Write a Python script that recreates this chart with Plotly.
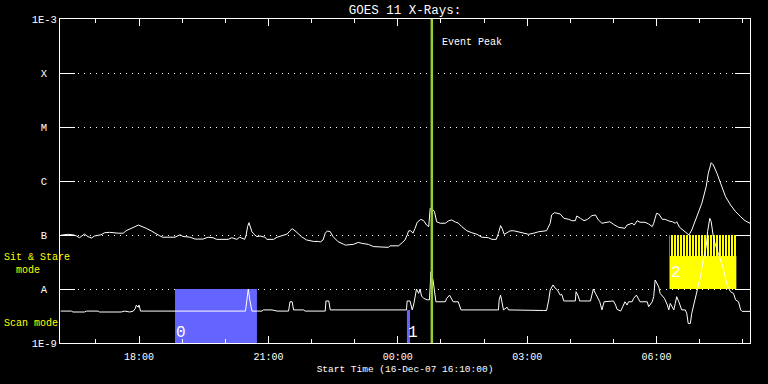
import pandas as pd
import plotly.graph_objects as go

START = pd.Timestamp("2007-12-16 16:10:00")
END = pd.Timestamp("2007-12-17 08:10:00")

# ---- GOES 11 long channel (1-8 A), minutes after start / flux W m^-2
long_minutes = [
    1, 11, 18, 23, 27, 34, 39, 44, 48, 57,
    62, 69, 81, 88, 92, 97, 104, 109, 113, 120,
    127, 134, 139, 143, 160, 167, 171, 181, 188, 199,
    202, 206, 213, 218, 234, 239, 246, 250, 257, 259,
    261, 263, 264, 267, 270, 274, 278, 285, 288, 297,
    302, 309, 316, 320, 323, 327, 332, 336, 343, 353,
    360, 362, 366, 369, 372, 376, 380, 387, 394, 397,
    408, 415, 420, 429, 436, 457, 459, 471, 476, 480,
    483, 485, 488, 491, 494, 497, 502, 506, 510, 513,
    515, 517, 521, 524, 529, 536, 541, 545, 550, 554,
    559, 566, 573, 580, 587, 596, 601, 607, 610, 613,
    615, 618, 622, 626, 631, 638, 645, 652, 659, 666,
    677, 682, 684, 688, 696, 701, 708, 712, 717, 719,
    724, 729, 734, 740, 745, 749, 754, 759, 765, 770,
    777, 786, 789, 796, 799, 803, 807, 814, 819, 824,
    826, 830, 833, 838, 842, 847, 852, 856, 858, 862,
    868, 872, 875, 879, 886, 893, 899, 902, 906, 909,
    914, 919, 926, 933, 940, 947, 953, 960,
]
long_flux = [
    0.99e-7, 1.03e-7, 1.01e-7, 0.96e-7, 0.89e-7, 1.04e-7, 0.93e-7, 0.88e-7, 0.96e-7, 1.01e-7,
    1.10e-7, 1.12e-7, 1.08e-7, 1.08e-7, 1.20e-7, 1.27e-7, 1.42e-7, 1.53e-7, 1.47e-7, 1.33e-7,
    1.19e-7, 1.04e-7, 0.96e-7, 0.91e-7, 0.91e-7, 1.01e-7, 0.94e-7, 0.91e-7, 0.84e-7, 0.84e-7,
    0.87e-7, 0.91e-7, 0.89e-7, 0.83e-7, 0.83e-7, 0.89e-7, 0.83e-7, 0.91e-7, 0.83e-7, 1.00e-7,
    1.43e-7, 1.69e-7, 1.53e-7, 1.15e-7, 1.03e-7, 0.93e-7, 0.96e-7, 0.91e-7, 0.83e-7, 0.83e-7,
    0.91e-7, 0.96e-7, 1.04e-7, 1.20e-7, 1.31e-7, 1.20e-7, 1.03e-7, 0.93e-7, 0.81e-7, 0.76e-7,
    0.76e-7, 0.74e-7, 0.81e-7, 1.08e-7, 1.19e-7, 1.15e-7, 0.93e-7, 0.75e-7, 0.68e-7, 0.65e-7,
    0.67e-7, 0.73e-7, 0.70e-7, 0.67e-7, 0.61e-7, 0.59e-7, 0.63e-7, 0.63e-7, 0.72e-7, 0.81e-7,
    1.00e-7, 1.19e-7, 1.20e-7, 1.08e-7, 1.33e-7, 1.72e-7, 1.95e-7, 1.84e-7, 1.53e-7, 1.43e-7,
    3.12e-7, 3.12e-7, 2.70e-7, 1.76e-7, 1.65e-7, 1.65e-7, 1.84e-7, 1.90e-7, 1.74e-7, 1.67e-7,
    1.43e-7, 1.20e-7, 1.10e-7, 1.03e-7, 0.91e-7, 0.89e-7, 0.83e-7, 0.83e-7, 1.08e-7, 1.49e-7,
    1.33e-7, 1.03e-7, 1.10e-7, 1.19e-7, 1.20e-7, 1.15e-7, 1.10e-7, 1.03e-7, 1.08e-7, 1.15e-7,
    1.20e-7, 1.65e-7, 2.35e-7, 2.59e-7, 2.45e-7, 2.04e-7, 1.95e-7, 1.84e-7, 1.84e-7, 2.25e-7,
    2.04e-7, 1.84e-7, 1.95e-7, 2.28e-7, 2.35e-7, 1.90e-7, 1.65e-7, 1.69e-7, 1.76e-7, 1.58e-7,
    1.39e-7, 1.33e-7, 1.53e-7, 1.65e-7, 1.53e-7, 1.84e-7, 1.72e-7, 1.72e-7, 1.60e-7, 1.43e-7,
    1.65e-7, 2.52e-7, 2.45e-7, 1.95e-7, 1.95e-7, 1.82e-7, 1.76e-7, 1.65e-7, 1.76e-7, 1.39e-7,
    1.20e-7, 1.08e-7, 1.00e-7, 1.24e-7, 2.18e-7, 3.86e-7, 7.84e-7, 1.39e-6, 2.18e-6, 1.98e-6,
    1.39e-6, 9.06e-7, 5.12e-7, 3.59e-7, 2.70e-7, 2.18e-7, 1.84e-7, 1.65e-7,
]

# ---- GOES 11 short channel (0.5-4 A)
short_minutes = [
    1, 16, 18, 34, 37, 53, 55, 85, 90, 97,
    102, 105, 106, 109, 110, 112, 258, 260, 262, 264,
    267, 281, 283, 295, 302, 318, 320, 323, 325, 339,
    341, 369, 370, 374, 376, 482, 483, 487, 490, 492,
    494, 496, 499, 501, 503, 506, 511, 514, 515, 516,
    519, 521, 523, 536, 538, 542, 545, 547, 554, 558,
    610, 611, 613, 615, 617, 622, 624, 673, 677, 680,
    682, 686, 689, 692, 696, 698, 701, 717, 718, 721,
    723, 738, 740, 742, 745, 747, 751, 754, 757, 770,
    773, 775, 780, 783, 786, 789, 791, 796, 798, 802,
    804, 807, 817, 819, 824, 826, 828, 831, 833, 835,
    839, 841, 845, 847, 849, 852, 854, 856, 858, 861,
    863, 865, 870, 872, 874, 877, 879, 882, 886, 891,
    895, 899, 901, 904, 906, 909, 912, 917, 922, 926,
    929, 933, 937, 940, 944, 947, 949, 960,
]
short_flux = [
    3.9e-9, 3.9e-9, 3.75e-9, 3.75e-9, 3.9e-9, 3.9e-9, 3.75e-9, 3.75e-9, 3.9e-9, 3.75e-9,
    3.9e-9, 4.4e-9, 5.0e-9, 4.6e-9, 5.05e-9, 3.9e-9, 3.9e-9, 6.3e-9, 10.0e-9, 6.3e-9,
    3.9e-9, 3.9e-9, 4.1e-9, 4.1e-9, 3.9e-9, 3.9e-9, 5.8e-9, 5.8e-9, 4.1e-9, 4.1e-9,
    3.9e-9, 3.9e-9, 6.0e-9, 6.0e-9, 4.1e-9, 4.1e-9, 6.0e-9, 6.0e-9, 4.1e-9, 5.05e-9,
    7.2e-9, 10.0e-9, 8.3e-9, 10.0e-9, 7.4e-9, 6.7e-9, 6.3e-9, 6.3e-9, 11.0e-9, 20.9e-9,
    14.7e-9, 9.6e-9, 5.8e-9, 5.8e-9, 6.7e-9, 7.7e-9, 6.7e-9, 5.8e-9, 5.8e-9, 4.1e-9,
    4.1e-9, 6.3e-9, 7.7e-9, 5.05e-9, 4.1e-9, 4.6e-9, 4.1e-9, 4.0e-9, 4.0e-9, 6.3e-9,
    9.6e-9, 11.9e-9, 10.3e-9, 9.6e-9, 7.7e-9, 8.0e-9, 6.0e-9, 6.0e-9, 8.9e-9, 7.4e-9,
    6.0e-9, 6.0e-9, 8.3e-9, 10.0e-9, 8.3e-9, 7.2e-9, 5.8e-9, 4.1e-9, 5.8e-9, 6.0e-9,
    5.05e-9, 4.2e-9, 3.9e-9, 4.7e-9, 5.8e-9, 5.05e-9, 5.8e-9, 5.8e-9, 6.7e-9, 7.7e-9,
    6.7e-9, 5.8e-9, 5.8e-9, 4.7e-9, 5.8e-9, 7.2e-9, 14.7e-9, 12.7e-9, 11.0e-9, 8.3e-9,
    7.2e-9, 6.7e-9, 5.05e-9, 4.1e-9, 5.4e-9, 4.7e-9, 4.1e-9, 5.4e-9, 7.2e-9, 5.8e-9,
    4.7e-9, 4.1e-9, 4.1e-9, 3.55e-9, 2.3e-9, 2.3e-9, 3.55e-9, 5.4e-9, 9.6e-9, 16.9e-9,
    34.5e-9, 60.7e-9, 115e-9, 204e-9, 176e-9, 93e-9, 65e-9, 42.6e-9, 25.9e-9, 15.8e-9,
    11.0e-9, 8.9e-9, 8.3e-9, 6.3e-9, 5.8e-9, 4.1e-9, 3.85e-9, 3.85e-9,
]

# ---- observing mode intervals
scan_labels = ["0", "1"]
scan_start = ["2007-12-16 18:50:00", "2007-12-17 00:12:40"]
scan_end = ["2007-12-16 20:44:00", "2007-12-17 00:17:00"]
scan_top = [1e-8, 4.1e-9]
sit_labels = ["2"]
sit_start = ["2007-12-17 06:18:00"]
sit_end = ["2007-12-17 07:51:00"]
sit_low, sit_high, sit_stripe_low = 1e-8, 1e-7, 4.08e-8
FLOOR, CEIL = 1e-9, 1e-3

event_peak = "2007-12-17 00:47:20"

ytick_vals = [1e-9, 1e-8, 1e-7, 1e-6, 1e-5, 1e-4, 1e-3]
ytick_names = ["1E-9", "A", "B", "C", "M", "X", "1E-3"]

FONT = "Liberation Mono"
BLUE = "#6464ff"
YELLOW = "#ffff00"
GREEN = "#9acd32"

long_t = START + pd.to_timedelta(long_minutes, unit="m")
short_t = START + pd.to_timedelta(short_minutes, unit="m")

# centre the one-letter class labels under the wider '1E-x' labels
PAD = "\u00a0<span style='font-size:6px'>\u00a0</span>"
ytick_text = [t if len(t) > 1 else t + PAD for t in ytick_names]

fig = go.Figure()

def rect(x0, x1, y0, y1, **kw):
    fig.add_trace(go.Scatter(
        x=[x0, x1, x1, x0, x0], y=[y0, y0, y1, y1, y0], mode="lines",
        fill="toself", line=dict(width=0), hoverinfo="skip", showlegend=False, **kw))

for s, e, top in zip(scan_start, scan_end, scan_top):
    rect(s, e, FLOOR, top, fillcolor=BLUE)
for s, e in zip(sit_start, sit_end):
    rect(s, e, sit_low, sit_stripe_low, fillcolor=YELLOW)
    rect(s, e, sit_stripe_low, sit_high, fillcolor=YELLOW,
         fillpattern=dict(shape="|", bgcolor=YELLOW, fgcolor="#000000",
                          size=3, solidity=0.34, fillmode="replace"))

fig.add_trace(go.Scatter(x=long_t, y=long_flux, mode="lines",
                         line=dict(color="white", width=1), showlegend=False))
fig.add_trace(go.Scatter(x=short_t, y=short_flux, mode="lines",
                         line=dict(color="white", width=1), showlegend=False))
fig.add_trace(go.Scatter(x=[event_peak, event_peak], y=[FLOOR, CEIL], mode="lines",
                         line=dict(color=GREEN, width=2.5), showlegend=False))

ann = []
for lab, s in zip(scan_labels, scan_start):
    ann.append(dict(x=s, y=-8.815, xref="x", yref="y", text=lab, showarrow=False,
                    xanchor="left", yanchor="middle", xshift=-1,
                    font=dict(family=FONT, size=16, color="white")))
for lab, s in zip(sit_labels, sit_start):
    ann.append(dict(x=s, y=-7.698, xref="x", yref="y", text=lab, showarrow=False,
                    xanchor="left", yanchor="middle", xshift=-1,
                    font=dict(family=FONT, size=16, color="white")))
ann.append(dict(x=event_peak, y=-3.444, xref="x", yref="y", text="Event Peak",
                showarrow=False, xanchor="left", yanchor="middle", xshift=8,
                font=dict(family=FONT, size=10, color="white")))
ann.append(dict(x=-0.084, y=-7.53, xref="paper", yref="y",
                text="Sit & Stare<br>\u00a0\u00a0mode", align="left",
                showarrow=False, xanchor="left", yanchor="middle",
                font=dict(family=FONT, size=10, color=YELLOW)))
ann.append(dict(x=-0.084, y=-8.648, xref="paper", yref="y", text="Scan mode",
                showarrow=False, xanchor="left", yanchor="middle",
                font=dict(family=FONT, size=10, color=YELLOW)))

fig.update_layout(
    width=768, height=384, autosize=False,
    margin=dict(l=60, r=18, t=19, b=41, autoexpand=False),
    paper_bgcolor="black", plot_bgcolor="black",
    title=dict(text="GOES 11 X-Rays:", x=0.5, xref="paper", xanchor="center",
               y=1 - 10 / 384, yref="container", yanchor="middle",
               font=dict(family=FONT, size=12.5, color="white")),
    annotations=ann,
    showlegend=False,
)
fig.update_xaxes(
    type="date", range=[START, END], automargin=False,
    showline=True, linecolor="white", linewidth=1, mirror="ticks",
    ticks="inside", ticklen=7, tickcolor="white",
    dtick=3 * 3600000, tick0="2007-12-16 18:00", tickformat="%H:%M",
    minor=dict(ticks="inside", ticklen=4, tickcolor="white",
               dtick=3600000, tick0="2007-12-16 17:00", showgrid=False),
    showgrid=False, zeroline=False, ticklabelstandoff=4,
    tickfont=dict(family=FONT, size=10, color="white"),
    title=dict(text="Start Time (16-Dec-07 16:10:00)", standoff=3,
               font=dict(family=FONT, size=9.5, color="white")),
)
fig.update_yaxes(
    type="log", range=[-9, -3], automargin=False,
    showline=True, linecolor="white", linewidth=1, mirror="ticks",
    ticks="inside", ticklen=15, tickcolor="white",
    tickvals=ytick_vals, ticktext=ytick_text,
    showgrid=True, gridcolor="white", gridwidth=1, griddash="1px,5px",
    zeroline=False,
    tickfont=dict(family=FONT, size=10.5, color="white"),
)

fig.write_html("out.html", config={"displayModeBar": False},
               post_script="document.body.style.margin='0';")
